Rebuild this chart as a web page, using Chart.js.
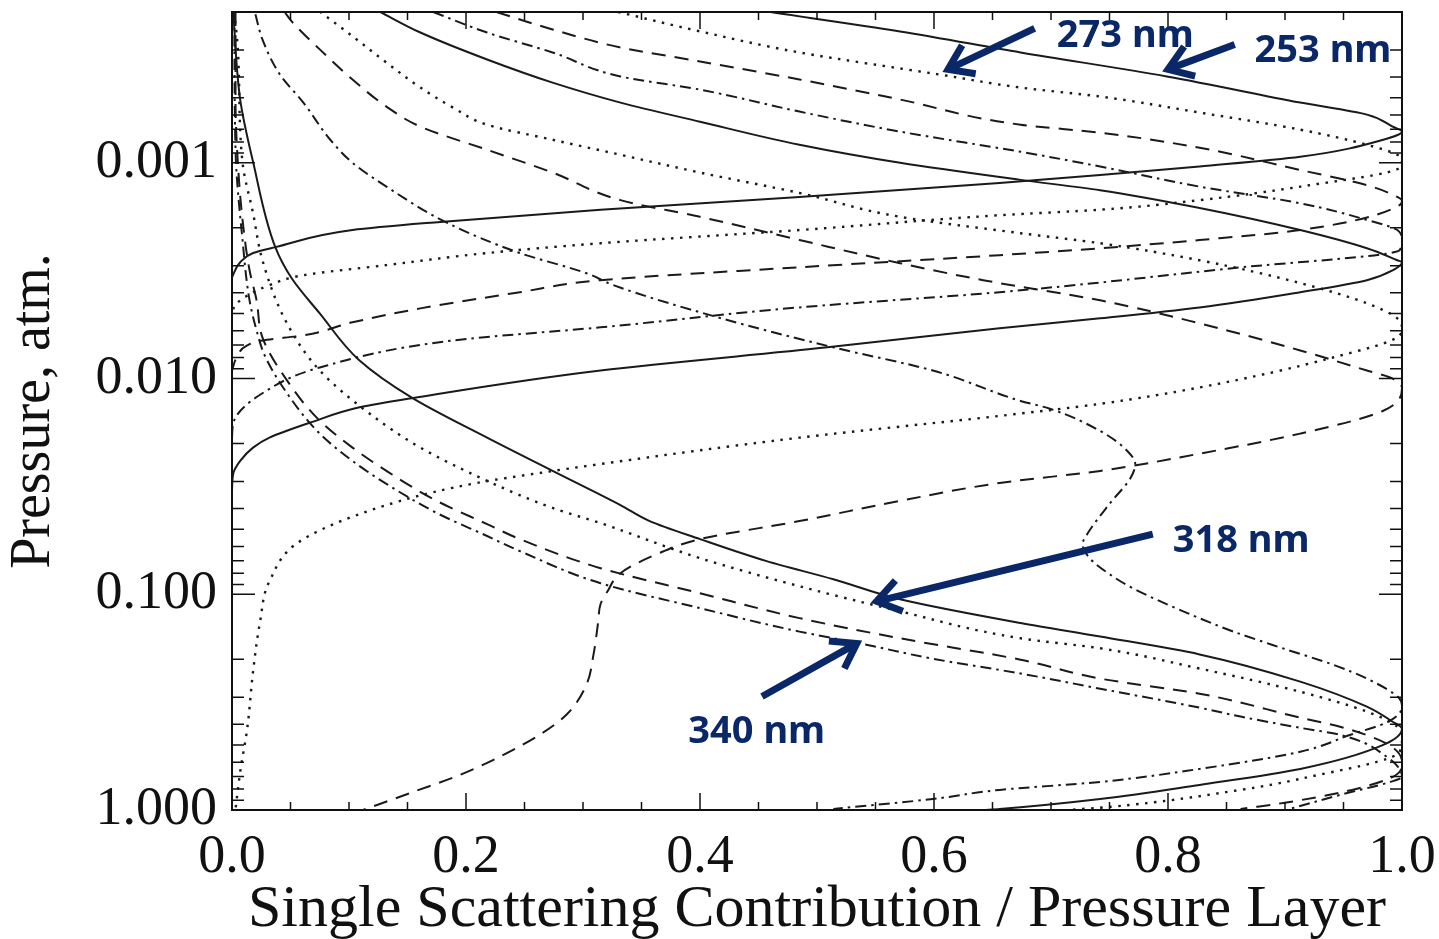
<!DOCTYPE html>
<html>
<head>
<meta charset="utf-8">
<title>Single Scattering Contribution / Pressure Layer</title>
<script src="https://cdn.jsdelivr.net/npm/chart.js"></script>
<style>
    html, body { margin: 0; padding: 0; background: #fff; }
    #wrap { width: 1439px; height: 939px; }
</style>
</head>
<body>
<div id="wrap"><canvas id="grafico" width="1439" height="939"></canvas></div>
<script>
// ticks com rotulo
const xTicks = [0, 0.2, 0.4, 0.6, 0.8, 1.0];
const yTicks = [0.001, 0.01, 0.1, 1];

// curvas: contribuicao (x) e pressao em atm (p)
const x253 = [0.457, 0.571, 0.674, 0.799, 0.913, 0.970, 0.992, 1.0, 0.984, 0.913, 0.827, 0.742, 0.656, 0.485, 0.315, 0.178, 0.103, 0.037, 0.018, 0.007, 0.0];
const p253 = [1.99e-4, 2.46e-4, 3.08e-4, 3.98e-4, 5.26e-4, 5.98e-4, 6.80e-4, 7.17e-4, 7.82e-4, 9.38e-4, 1.04e-3, 1.14e-3, 1.24e-3, 1.44e-3, 1.65e-3, 1.88e-3, 2.05e-3, 2.46e-3, 2.62e-3, 2.89e-3, 3.39e-3];

const x273 = [0.33, 0.4, 0.485, 0.605, 0.674, 0.742, 0.827, 0.913, 0.970, 0.996, 1.0, 0.998, 0.913, 0.827, 0.742, 0.656, 0.485, 0.315, 0.218, 0.132, 0.061, 0.032, 0.004, 0.0];
const p273 = [2.0e-4, 2.46e-4, 3.08e-4, 3.90e-4, 4.48e-4, 4.93e-4, 5.85e-4, 7.02e-4, 8.25e-4, 9.18e-4, 9.9e-4, 1.055e-3, 1.29e-3, 1.49e-3, 1.65e-3, 1.75e-3, 2.05e-3, 2.36e-3, 2.62e-3, 2.98e-3, 3.32e-3, 3.69e-3, 4.48e-3, 4.99e-3];

const x3 = [0.226, 0.274, 0.332, 0.4, 0.485, 0.571, 0.674, 0.742, 0.827, 0.913, 0.970, 0.996, 1.0, 0.998, 0.913, 0.827, 0.742, 0.656, 0.485, 0.315, 0.246, 0.161, 0.103, 0.061, 0.026, 0.013, 0.004, 0.0];
const p3 = [2.0e-4, 2.41e-4, 2.92e-4, 3.39e-4, 4.11e-4, 5.09e-4, 6.66e-4, 7.25e-4, 8.52e-4, 1.08e-3, 1.27e-3, 1.44e-3, 1.50e-3, 1.57e-3, 2.05e-3, 2.28e-3, 2.49e-3, 2.68e-3, 3.05e-3, 3.50e-3, 3.98e-3, 4.73e-3, 5.49e-3, 6.31e-3, 6.66e-3, 7.02e-3, 7.99e-3, 9.18e-3];

const x4 = [0.172, 0.218, 0.274, 0.332, 0.4, 0.485, 0.571, 0.674, 0.742, 0.827, 0.913, 0.970, 0.996, 1.0, 0.998, 0.855, 0.656, 0.485, 0.315, 0.189, 0.075, 0.026, 0.001, 0.0];
const p4 = [2.0e-4, 2.49e-4, 3.08e-4, 3.98e-4, 4.58e-4, 5.79e-4, 7.17e-4, 8.89e-4, 1.04e-3, 1.29e-3, 1.54e-3, 1.84e-3, 2.05e-3, 2.28e-3, 2.54e-3, 3.08e-3, 3.98e-3, 4.68e-3, 5.79e-3, 6.66e-3, 8.89e-3, 1.17e-2, 1.62e-2, 1.94e-2];

const x5 = [0.126, 0.161, 0.218, 0.274, 0.332, 0.4, 0.485, 0.571, 0.674, 0.742, 0.827, 0.913, 0.970, 0.996, 1.0, 0.992, 0.970, 0.913, 0.827, 0.742, 0.656, 0.509, 0.315, 0.155, 0.109, 0.067, 0.032, 0.018, 0.007, 0.001, 0.0];
const p5 = [1.99e-4, 2.49e-4, 3.32e-4, 4.25e-4, 5.26e-4, 6.45e-4, 8.25e-4, 1.0e-3, 1.2e-3, 1.34e-3, 1.62e-3, 2.05e-3, 2.49e-3, 2.83e-3, 2.89e-3, 3.15e-3, 3.50e-3, 3.98e-3, 4.68e-3, 5.26e-3, 5.85e-3, 7.17e-3, 9.18e-3, 1.23e-2, 1.36e-2, 1.60e-2, 1.88e-2, 2.09e-2, 2.41e-2, 2.77e-2, 3.32e-2];

const x6 = [0.075, 0.103, 0.132, 0.161, 0.189, 0.218, 0.274, 0.332, 0.4, 0.485, 0.571, 0.674, 0.742, 0.827, 0.913, 0.970, 0.996, 1.0, 0.998, 0.941, 0.827, 0.742, 0.656, 0.485, 0.315, 0.263, 0.209, 0.144, 0.061, 0.032, 0.024, 0.018, 0.013, 0.007, 0.003];
const p6 = [1.99e-4, 2.59e-4, 3.43e-4, 4.48e-4, 5.55e-4, 6.66e-4, 7.82e-4, 9.18e-4, 1.11e-3, 1.38e-3, 1.78e-3, 2.12e-3, 2.36e-3, 2.83e-3, 3.61e-3, 4.48e-3, 5.26e-3, 5.85e-3, 6.31e-3, 7.99e-3, 1.10e-2, 1.31e-2, 1.49e-2, 1.88e-2, 2.49e-2, 2.74e-2, 3.05e-2, 3.69e-2, 5.55e-2, 8.70e-2, 0.134, 0.228, 0.42, 0.665, 0.989];

const x7 = [0.045, 0.051, 0.075, 0.103, 0.132, 0.161, 0.218, 0.274, 0.332, 0.4, 0.485, 0.571, 0.642, 0.742, 0.827, 0.913, 0.970, 0.992, 1.0, 0.984, 0.913, 0.827, 0.742, 0.656, 0.571, 0.485, 0.4, 0.363, 0.332, 0.321, 0.315, 0.313, 0.309, 0.303, 0.286, 0.263, 0.232, 0.195, 0.155, 0.112];
const p7 = [2.0e-4, 2.21e-4, 2.98e-4, 4.11e-4, 5.49e-4, 6.80e-4, 8.70e-4, 1.11e-3, 1.49e-3, 1.78e-3, 2.28e-3, 2.92e-3, 3.50e-3, 4.34e-3, 5.55e-3, 7.41e-3, 9.18e-3, 1.0e-2, 1.11e-2, 1.41e-2, 1.80e-2, 2.23e-2, 2.68e-2, 3.05e-2, 3.69e-2, 4.58e-2, 5.55e-2, 6.52e-2, 7.99e-2, 9.68e-2, 0.111, 0.134, 0.19, 0.262, 0.361, 0.448, 0.555, 0.687, 0.824, 1.0];

const x8 = [0.02, 0.026, 0.041, 0.061, 0.084, 0.103, 0.132, 0.184, 0.246, 0.303, 0.326, 0.415, 0.514, 0.599, 0.674, 0.699, 0.742, 0.765, 0.772, 0.768, 0.750, 0.731, 0.727, 0.733, 0.750, 0.770, 0.813, 0.856, 0.898, 0.941, 0.970, 0.998, 1.0, 0.988, 0.956, 0.913, 0.827, 0.742, 0.656, 0.599, 0.514];
const p8 = [2.05e-4, 2.68e-4, 3.90e-4, 5.26e-4, 7.82e-4, 1.0e-3, 1.29e-3, 1.90e-3, 2.62e-3, 3.25e-3, 3.69e-3, 5.2e-3, 7.17e-3, 9.18e-3, 1.27e-2, 1.38e-2, 1.75e-2, 2.16e-2, 2.49e-2, 2.89e-2, 3.81e-2, 5.26e-2, 5.85e-2, 6.80e-2, 8.07e-2, 9.38e-2, 0.12, 0.149, 0.178, 0.212, 0.246, 0.305, 0.332, 0.39, 0.448, 0.537, 0.645, 0.741, 0.807, 0.889, 0.989];

const x318 = [0.001, 0.007, 0.018, 0.037, 0.051, 0.075, 0.109, 0.154, 0.218, 0.274, 0.332, 0.357, 0.4, 0.457, 0.514, 0.571, 0.674, 0.742, 0.827, 0.913, 0.970, 0.992, 1.0, 0.984, 0.913, 0.827, 0.742, 0.656, 0.642];
const p318 = [2.0e-4, 5.09e-4, 9.9e-4, 2.46e-3, 3.43e-3, 4.99e-3, 8.25e-3, 1.23e-2, 1.88e-2, 2.68e-2, 3.86e-2, 4.58e-2, 5.55e-2, 7.02e-2, 8.52e-2, 0.1055, 0.136, 0.157, 0.19, 0.254, 0.332, 0.39, 0.42, 0.499, 0.645, 0.765, 0.889, 0.989, 1.0];

const x10 = [0.002, 0.005, 0.009, 0.018, 0.026, 0.047, 0.075, 0.118, 0.161, 0.218, 0.274, 0.315, 0.4, 0.485, 0.571, 0.674, 0.742, 0.827, 0.913, 0.970, 0.996, 1.0, 0.998, 0.913, 0.862, 0.750, 0.714];
const p10 = [2.0e-4, 2.98e-4, 1.0e-3, 1.71e-3, 2.83e-3, 5.55e-3, 9.18e-3, 1.46e-2, 2.09e-2, 2.98e-2, 3.98e-2, 4.68e-2, 6.80e-2, 9.18e-2, 0.12, 0.16, 0.178, 0.221, 0.283, 0.35, 0.411, 0.468, 0.537, 0.717, 0.807, 0.968, 1.0];

const x11 = [0.003, 0.003, 0.005, 0.009, 0.015, 0.021, 0.026, 0.047, 0.075, 0.103, 0.132, 0.175, 0.218, 0.246, 0.315, 0.4, 0.485, 0.571, 0.674, 0.742, 0.827, 0.913, 0.947, 0.987, 1.0, 0.998, 0.967, 0.904, 0.862];
const p11 = [2.0e-4, 5.09e-4, 1.0e-3, 1.84e-3, 3.15e-3, 4.34e-3, 6.45e-3, 1.02e-2, 1.57e-2, 2.09e-2, 2.68e-2, 3.69e-2, 4.73e-2, 5.55e-2, 7.57e-2, 9.89e-2, 0.129, 0.16, 0.201, 0.246, 0.289, 0.373, 0.411, 0.493, 0.598, 0.665, 0.782, 0.918, 0.989];

const x340 = [0.002, 0.003, 0.009, 0.015, 0.021, 0.028, 0.047, 0.075, 0.103, 0.132, 0.175, 0.218, 0.246, 0.315, 0.4, 0.485, 0.537, 0.599, 0.674, 0.742, 0.827, 0.862, 0.913, 0.947, 0.987, 1.0, 0.990, 0.947, 0.904];
const p340 = [2.0e-4, 8.7e-4, 2.28e-3, 4.34e-3, 5.98e-3, 7.82e-3, 1.17e-2, 1.80e-2, 2.41e-2, 3.08e-2, 4.20e-2, 5.37e-2, 6.31e-2, 8.89e-2, 0.116, 0.149, 0.169, 0.199, 0.233, 0.274, 0.3355, 0.369, 0.416, 0.448, 0.567, 0.702, 0.741, 0.851, 0.989];

// estilos de linha (solida, pontilhada, tracejada, traco-ponto)
const estilos = {
    solida: [],
    pontos: [2.5, 6.5],
    traco: [14, 9],
    tracoPonto: [11, 5, 2.5, 5]
};

const curvas = [
    { nome: '253 nm', x: x253, p: p253, estilo: 'solida' },
    { nome: '273 nm', x: x273, p: p273, estilo: 'pontos' },
    { nome: 'curva 3', x: x3, p: p3, estilo: 'traco' },
    { nome: 'curva 4', x: x4, p: p4, estilo: 'tracoPonto' },
    { nome: 'curva 5', x: x5, p: p5, estilo: 'solida' },
    { nome: 'curva 6', x: x6, p: p6, estilo: 'pontos' },
    { nome: 'curva 7', x: x7, p: p7, estilo: 'traco' },
    { nome: 'curva 8', x: x8, p: p8, estilo: 'tracoPonto' },
    { nome: '318 nm', x: x318, p: p318, estilo: 'solida' },
    { nome: 'curva 10', x: x10, p: p10, estilo: 'pontos' },
    { nome: 'curva 11', x: x11, p: p11, estilo: 'traco' },
    { nome: '340 nm', x: x340, p: p340, estilo: 'tracoPonto' }
];

// anotacoes azuis: texto + seta (em coordenadas do grafico)
const notas = [
    { texto: '273 nm', tx: 0.705, tp: 2.59e-4, de: [0.686, 2.38e-4], para: [0.612, 3.69e-4] },
    { texto: '253 nm', tx: 0.874, tp: 3.05e-4, de: [0.857, 2.83e-4], para: [0.800, 3.69e-4] },
    { texto: '318 nm', tx: 0.804, tp: 5.67e-2, de: [0.787, 5.26e-2], para: [0.551, 0.1078] },
    { texto: '340 nm', tx: 0.390, tp: 0.434, de: [0.453, 0.298], para: [0.534, 0.169] }
];

const AZUL = '#0a2868';

const datasets = curvas.map(c => ({
    label: c.nome,
    data: c.x.map((v, i) => ({ x: v, y: c.p[i] })),
    showLine: true,
    pointRadius: 0,
    borderColor: '#1a1a1a',
    borderWidth: c.estilo == 'pontos' ? 2.4 : 2,
    borderDash: estilos[c.estilo],
    cubicInterpolationMode: 'monotone',
    fill: false
}));

const molduraPlugin = {
    id: 'moldura',
    afterDatasetsDraw(chart) {
        const { ctx, chartArea: a, scales } = chart;
        const sx = scales.x, sy = scales.y;
        ctx.save();
        ctx.strokeStyle = '#111';
        ctx.lineWidth = 1.5;
        ctx.beginPath();
        for (let i = 0; i <= 20; i++) {
            const px = sx.getPixelForValue(i * 0.05);
            const len = (i % 4 == 0) ? 17 : 8;
            ctx.moveTo(px, a.bottom); ctx.lineTo(px, a.bottom - len);
            ctx.moveTo(px, a.top); ctx.lineTo(px, a.top + len);
        }
        for (let e = -4; e <= 0; e++) {
            for (let m = 1; m <= 9; m++) {
                const v = m * Math.pow(10, e);
                if (v <= sy.min * 1.001 || v > sy.max * 1.001) continue;
                const py = sy.getPixelForValue(v);
                const len = m == 1 ? 23 : 12;
                ctx.moveTo(a.left, py); ctx.lineTo(a.left + len, py);
                ctx.moveTo(a.right, py); ctx.lineTo(a.right - len, py);
            }
        }
        ctx.stroke();
        ctx.lineWidth = 2;
        ctx.strokeRect(a.left, a.top, a.width, a.height);

        // setas e rotulos
        ctx.strokeStyle = AZUL;
        ctx.fillStyle = AZUL;
        ctx.lineWidth = 7;
        ctx.lineCap = 'butt';
        ctx.lineJoin = 'miter';
        ctx.font = 'bold 38px "Noto Sans"';
        ctx.textBaseline = 'middle';
        ctx.textAlign = 'left';
        notas.forEach(n => {
            const x0 = sx.getPixelForValue(n.de[0]), y0 = sy.getPixelForValue(n.de[1]);
            const x1 = sx.getPixelForValue(n.para[0]), y1 = sy.getPixelForValue(n.para[1]);
            const ang = Math.atan2(y1 - y0, x1 - x0);
            ctx.beginPath();
            ctx.moveTo(x0, y0);
            ctx.lineTo(x1, y1);
            ctx.stroke();
            ctx.beginPath();
            ctx.moveTo(x1 - 28 * Math.cos(ang - 0.6), y1 - 28 * Math.sin(ang - 0.6));
            ctx.lineTo(x1, y1);
            ctx.lineTo(x1 - 28 * Math.cos(ang + 0.6), y1 - 28 * Math.sin(ang + 0.6));
            ctx.stroke();
            ctx.fillText(n.texto, sx.getPixelForValue(n.tx), sy.getPixelForValue(n.tp));
        });
        ctx.restore();
    }
};

const fonteSerif = 'Liberation Serif';

new Chart(document.getElementById('grafico'), {
    type: 'scatter',
    data: { datasets: datasets },
    options: {
        responsive: false,
        animation: false,
        devicePixelRatio: 1,
        indexAxis: 'y',
        layout: { padding: { top: 12, right: 37, left: 0, bottom: 0 } },
        plugins: {
            legend: { display: false },
            tooltip: { enabled: false }
        },
        scales: {
            x: {
                type: 'linear',
                position: 'bottom',
                min: 0,
                max: 1,
                grid: { display: false, drawTicks: false },
                border: { display: false },
                afterBuildTicks: s => { s.ticks = xTicks.map(v => ({ value: v })); },
                afterFit: s => { s.height = 129; s.paddingLeft = 0; s.paddingRight = 0; },
                ticks: {
                    autoSkip: false,
                    maxRotation: 0,
                    padding: 15,
                    color: '#111',
                    font: { family: fonteSerif, size: 54, lineHeight: 1.2 },
                    callback: v => Number(v).toFixed(1)
                },
                title: {
                    display: true,
                    text: 'Single Scattering Contribution / Pressure Layer',
                    color: '#111',
                    padding: 0,
                    font: { family: fonteSerif, size: 60, lineHeight: 0.95 }
                }
            },
            y: {
                type: 'logarithmic',
                reverse: true,
                min: 0.0002,
                max: 1,
                grid: { display: false, drawTicks: false },
                border: { display: false },
                afterBuildTicks: s => { s.ticks = yTicks.map(v => ({ value: v })); },
                afterFit: s => { s.width = 232; s.paddingTop = 0; s.paddingBottom = 0; },
                ticks: {
                    autoSkip: false,
                    padding: 15,
                    color: '#111',
                    font: { family: fonteSerif, size: 54, lineHeight: 1.2 },
                    callback: v => Number(v).toFixed(3)
                },
                title: {
                    display: true,
                    text: 'Pressure, atm.',
                    color: '#111',
                    padding: { top: 1, bottom: 0 },
                    font: { family: fonteSerif, size: 56, lineHeight: 1.2 }
                }
            }
        }
    },
    plugins: [molduraPlugin]
});
</script>
</body>
</html>
